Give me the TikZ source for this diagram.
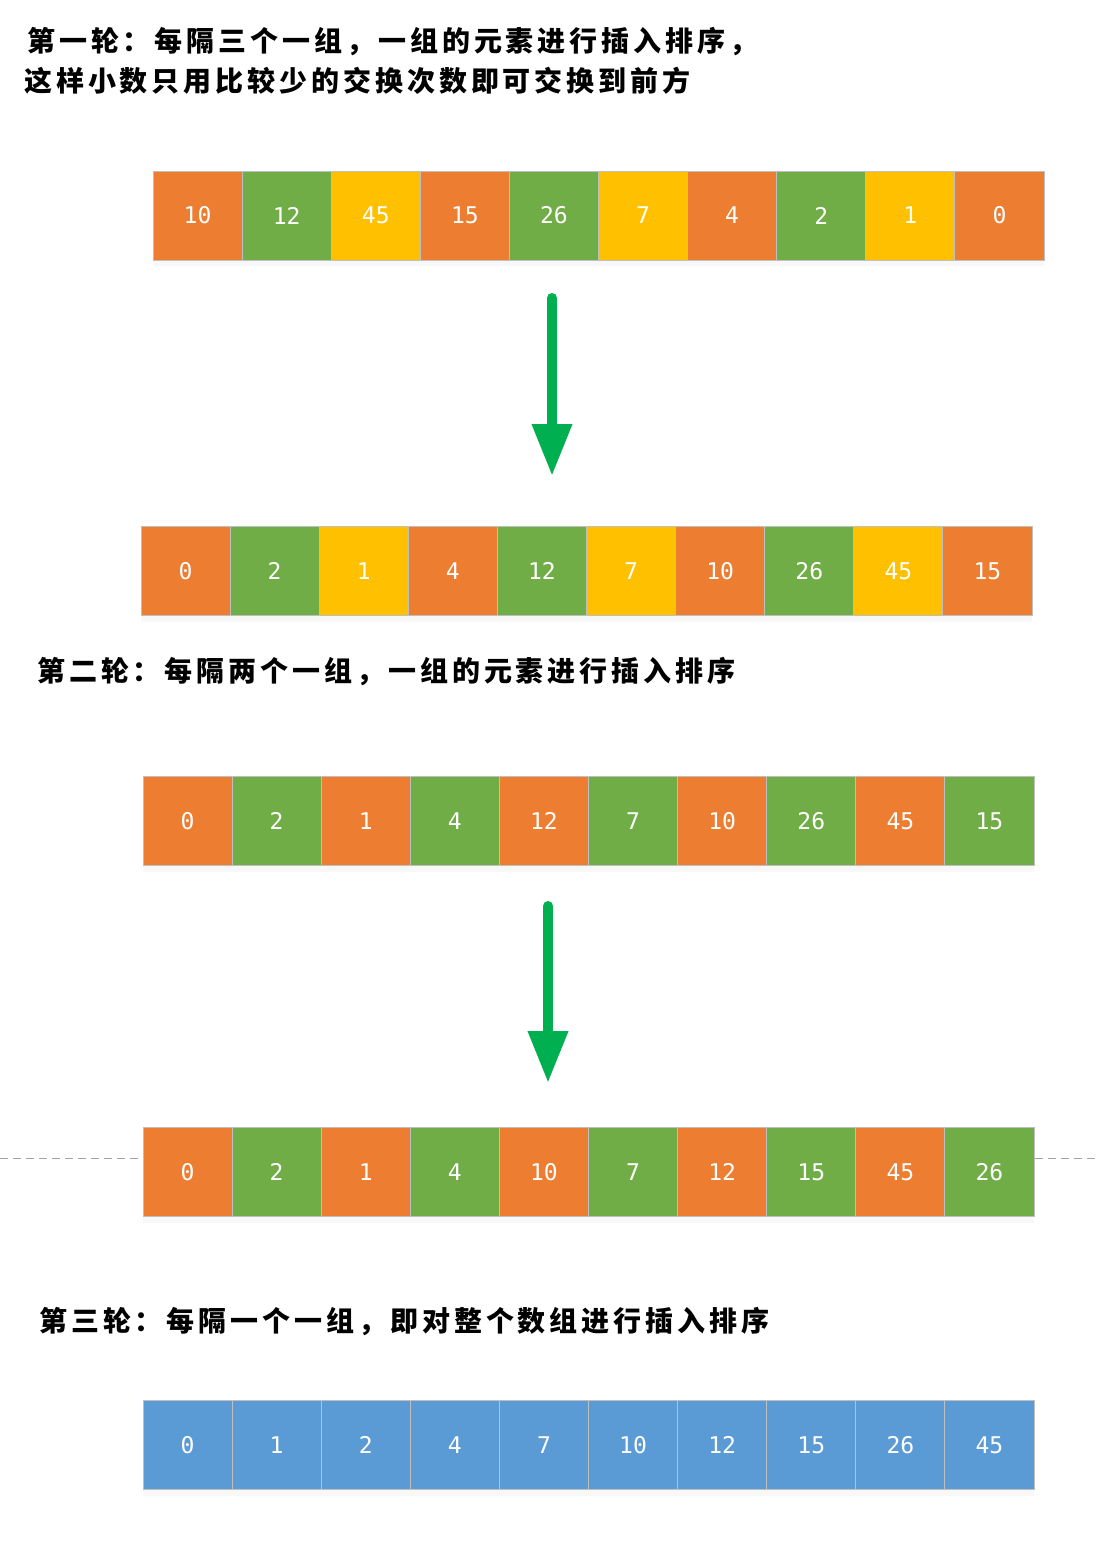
\documentclass[tikz,border=0pt]{standalone}
\usepackage{fontspec}
\usepackage{tikz}
\usetikzlibrary{arrows.meta,shadows}
\setmonofont{DejaVu Sans Mono}
\newfontfamily\cjk[LetterSpace=14]{Noto Sans CJK SC}

\definecolor{orng}{HTML}{ED7D31}
\definecolor{grn}{HTML}{70AD47}
\definecolor{yel}{HTML}{FFC000}
\definecolor{blu}{HTML}{5B9BD5}
\definecolor{arrowgreen}{HTML}{00B050}
\definecolor{cellline}{HTML}{BFBFBF}

\tikzset{
    cell/.style={draw=cellline, line width=1pt, minimum width=89.1pt, minimum height=89pt,
        inner sep=0pt, text=white, font=\ttfamily\fontsize{23}{23}\selectfont,
        drop shadow={shadow xshift=0pt, shadow yshift=-6pt, opacity=0.06}},
    caption/.style={anchor=west, inner sep=0pt, font=\cjk\bfseries\fontsize{28}{28}\selectfont},
    bigarrow/.style={draw=arrowgreen, line width=10pt, line cap=round,
        -{Triangle[length=52pt, width=38pt]}},
}

\begin{document}
\begin{tikzpicture}[x=1pt, y=-1pt]
            \useasboundingbox (0,0) rectangle (1096,1552);
            % Captions
            \node[caption] (t1) at (27,42) {第一轮：每隔三个一组，一组的元素进行插入排序，};
            \node[caption] (t2) at (24,81) {这样小数只用比较少的交换次数即可交换到前方};
            \node[caption] (t3) at (37,672) {第二轮：每隔两个一组，一组的元素进行插入排序};
            \node[caption] (t4) at (39,1322) {第三轮：每隔一个一组，即对整个数组进行插入排序};
            % Rows
            \foreach \v/\c [count=\i] in {10/orng,12/grn,45/yel,15/orng,26/grn,7/yel,4/orng,2/grn,1/yel,0/orng}
                \node[cell, fill=\c] (a\i) at ({153+(\i-0.5)*89.1},215.5) {\v};
            \foreach \v/\c [count=\i] in {0/orng,2/grn,1/yel,4/orng,12/grn,7/yel,10/orng,26/grn,45/yel,15/orng}
                \node[cell, fill=\c] (b\i) at ({141+(\i-0.5)*89.1},571) {\v};
            \foreach \v/\c [count=\i] in {0/orng,2/grn,1/orng,4/grn,12/orng,7/grn,10/orng,26/grn,45/orng,15/grn}
                \node[cell, fill=\c] (c\i) at ({143+(\i-0.5)*89.1},821) {\v};
            \foreach \v/\c [count=\i] in {0/orng,2/grn,1/orng,4/grn,10/orng,7/grn,12/orng,15/grn,45/orng,26/grn}
                \node[cell, fill=\c] (d\i) at ({143+(\i-0.5)*89.1},1172) {\v};
            \foreach \v [count=\i] in {0,1,2,4,7,10,12,15,26,45}
                \node[cell, fill=blu] (e\i) at ({143+(\i-0.5)*89.1},1445) {\v};
            % Arrows
            \coordinate (s1) at (552,298);
            \coordinate (f1) at (552,476);
            \draw[bigarrow] (s1) -- (f1);
            \coordinate (s2) at (548,906);
            \coordinate (f2) at (548,1083);
            \draw[bigarrow] (s2) -- (f2);
            % Dashed guide
            \coordinate (gl) at (0,1158);
            \coordinate (gr) at (1096,1158);
            \draw[cellline!85!black, line width=1pt, dash pattern=on 8pt off 5pt] (gl) -- (gl -| d1.west);
            \draw[cellline!85!black, line width=1pt, dash pattern=on 8pt off 5pt] (gl -| d10.east) -- (gr);
        \end{tikzpicture}
\end{document}
